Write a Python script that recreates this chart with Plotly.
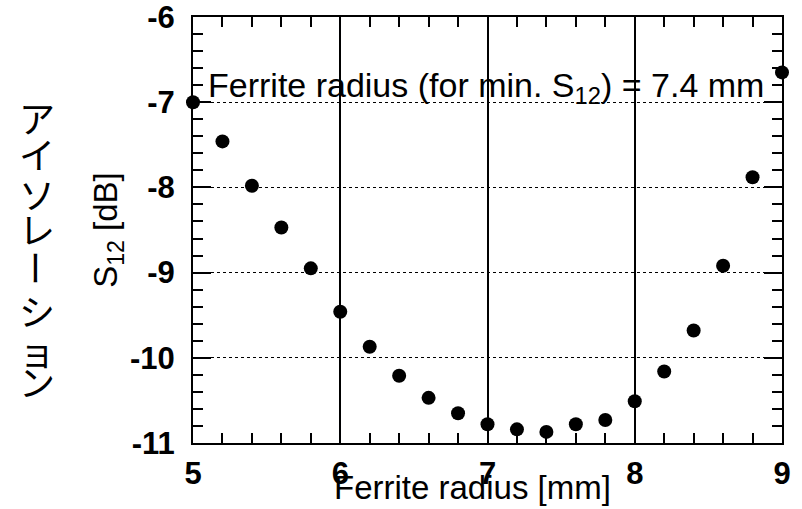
import plotly.graph_objects as go

# Isolation (S12) versus ferrite radius
radius_mm = [5.0, 5.2, 5.4, 5.6, 5.8, 6.0, 6.2, 6.4, 6.6, 6.8, 7.0,
             7.2, 7.4, 7.6, 7.8, 8.0, 8.2, 8.4, 8.6, 8.8, 9.0]
s12_db = [-7.00, -7.46, -7.98, -8.47, -8.95, -9.46, -9.87, -10.21, -10.47,
          -10.65, -10.78, -10.84, -10.87, -10.78, -10.73, -10.51, -10.16,
          -9.68, -8.92, -7.88, -6.65]
x_ticks = [5, 6, 7, 8, 9]
y_ticks = [-11, -10, -9, -8, -7, -6]
side_label = "アイソレーション"

FONT = "Liberation Sans, Arial, Helvetica, sans-serif"
JP_FONT = "Noto Sans CJK JP"
INK = "black"
tick_font = dict(family=FONT, size=31, color=INK, weight="bold")
title_font = dict(family=FONT, size=33, color=INK)
x_range = [x_ticks[0], x_ticks[-1]]
y_range = [y_ticks[0], y_ticks[-1]]

fig = go.Figure()
fig.add_trace(go.Scatter(
    x=radius_mm, y=s12_db, mode="markers",
    marker=dict(color=INK, size=14), cliponaxis=False,
))
# anchor point for the overlaid tick-only axis pair
fig.add_trace(go.Scatter(
    x=[x_range[0]], y=[y_range[0]], mode="markers", xaxis="x2", yaxis="y2",
    marker=dict(opacity=0), hoverinfo="skip",
))

# main axes: frame, grid, labels, titles
fig.update_layout(
    xaxis=dict(
        range=x_range, tickvals=x_ticks, ticktext=[str(v) for v in x_ticks],
        ticks="", showline=True, linewidth=2, linecolor=INK, mirror=True,
        showgrid=True, gridcolor=INK, gridwidth=1.5, zeroline=False, automargin=False,
        tickfont=tick_font, ticklabeloverflow="allow", ticklabelstandoff=2,
    ),
    yaxis=dict(
        range=y_range, tickvals=y_ticks, ticktext=[str(v) for v in y_ticks],
        ticks="", showline=True, linewidth=2, linecolor=INK, mirror=True,
        showgrid=True, gridcolor=INK, griddash="dot", gridwidth=1, zeroline=False,
        automargin=False, tickfont=tick_font, ticklabeloverflow="allow",
        ticklabelstandoff=10,
        title=dict(text="S<sub>12</sub> [dB]", font=title_font, standoff=2),
    ),
    # inward tick marks on all four sides
    xaxis2=dict(
        overlaying="x", anchor="y", range=x_range, dtick=1,
        ticks="inside", ticklen=18, tickwidth=2, tickcolor="#000001",
        showline=True, linewidth=2, linecolor=INK, mirror="ticks",
        showgrid=False, zeroline=False, showticklabels=False,
        minor=dict(ticks="inside", ticklen=10, tickwidth=2, tickcolor="#000001", dtick=0.2),
    ),
    yaxis2=dict(
        overlaying="y", anchor="x", range=y_range, dtick=1,
        ticks="inside", ticklen=18, tickwidth=2, tickcolor="#000001",
        showline=True, linewidth=2, linecolor=INK, mirror="ticks",
        showgrid=False, zeroline=False, showticklabels=False,
        minor=dict(ticks="inside", ticklen=10, tickwidth=2, tickcolor="#000001", dtick=0.2),
    ),
)

plot_w = 802 - 193 - 20
plot_h = 509 - 17 - 66

annotations = [
    dict(text="Ferrite radius (for min. S<sub>12</sub>) = 7.4 mm",
         xref="paper", yref="paper", x=0.022, y=0.835,
         xanchor="left", yanchor="middle", showarrow=False,
         font=dict(family=FONT, size=34, color=INK)),
    dict(text="Ferrite radius [mm]",
         xref="paper", yref="paper", x=(472 - 193) / plot_w, y=(443 - 487) / plot_h,
         xanchor="center", yanchor="middle", showarrow=False,
         font=title_font),
]

# Vertical Japanese label, one character per line; the long-vowel mark is turned upright
char_y_px = [117, 153, 193, 228, 268, 310, 350, 381]
for ch, py in zip(side_label, char_y_px):
    annotations.append(dict(
        text=ch, xref="paper", yref="paper",
        x=(37 - 193) / plot_w, y=(443 - py) / plot_h,
        xanchor="center", yanchor="middle", showarrow=False,
        textangle=90 if ch == "ー" else 0,
        font=dict(family=JP_FONT, size=36, color=INK),
    ))

fig.update_layout(
    width=802, height=509,
    margin=dict(l=193, r=20, t=17, b=66),
    plot_bgcolor="white", showlegend=False,
    annotations=annotations,
)

fig.write_html("out.html")
